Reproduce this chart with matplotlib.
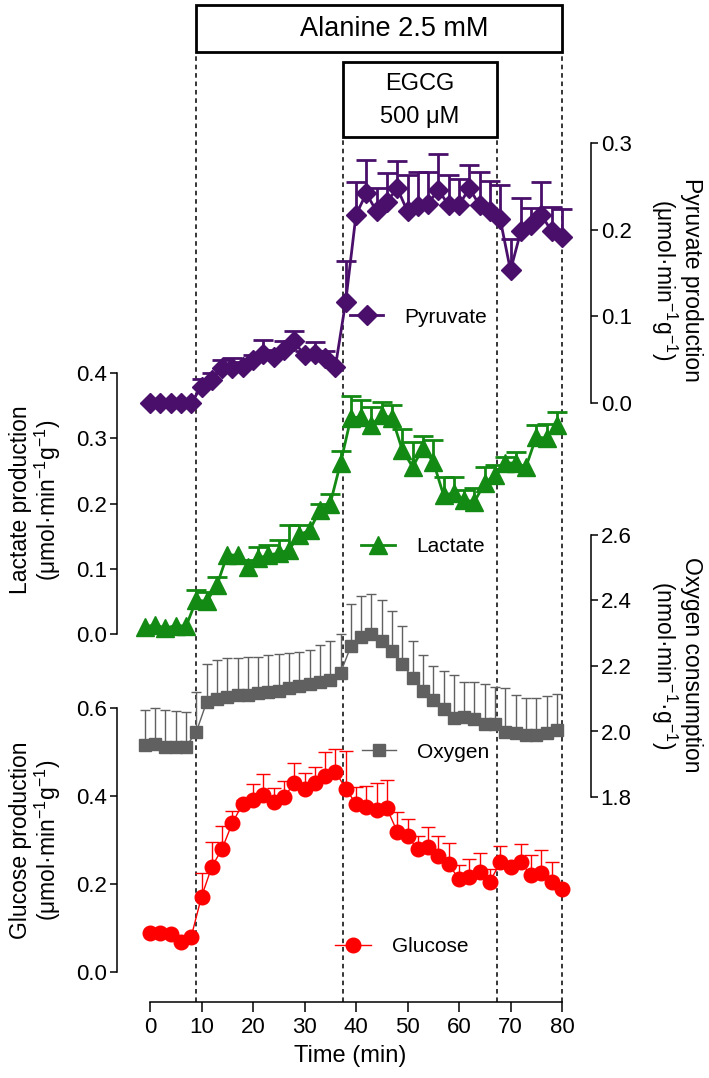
import matplotlib
matplotlib.use('Agg')
import matplotlib.pyplot as plt
import numpy as np
from matplotlib.patches import Rectangle
from matplotlib.transforms import blended_transform_factory

plt.rcParams['font.family'] = ['Liberation Sans', 'DejaVu Sans']
plt.rcParams['mathtext.default'] = 'regular'

# ---- data ----
t_even = np.arange(0, 81, 2)      # glucose, pyruvate
t_odd = np.arange(-1, 80, 2)      # oxygen, lactate

glucose = [0.088, 0.088, 0.086, 0.069, 0.080, 0.171, 0.239, 0.280, 0.339, 0.382,
           0.391, 0.402, 0.387, 0.397, 0.429, 0.417, 0.430, 0.445, 0.455, 0.417,
           0.382, 0.376, 0.368, 0.372, 0.319, 0.308, 0.280, 0.285, 0.264, 0.245,
           0.211, 0.217, 0.228, 0.205, 0.249, 0.238, 0.249, 0.220, 0.226, 0.205, 0.188]
glucose_err = [0, 0, 0, 0, 0, 0.055, 0.057, 0.051, 0.027, 0.010,
               0.036, 0.048, 0.032, 0.037, 0.047, 0.036, 0.036, 0.055, 0.051, 0.085,
               0.038, 0.047, 0.062, 0.064, 0.044, 0.040, 0.028, 0.045, 0.045, 0.048,
               0.032, 0.039, 0.042, 0.028, 0.037, 0.012, 0.043, 0.045, 0.052, 0.045, 0.0]

oxygen = [1.958, 1.961, 1.954, 1.954, 1.954, 1.999, 2.090, 2.100, 2.105, 2.110,
          2.112, 2.118, 2.122, 2.125, 2.133, 2.138, 2.145, 2.152, 2.158, 2.179,
          2.260, 2.290, 2.297, 2.277, 2.246, 2.206, 2.163, 2.125, 2.095, 2.070,
          2.042, 2.044, 2.037, 2.024, 2.024, 1.999, 1.994, 1.989, 1.989, 1.994, 2.004]
oxygen_err = [0.109, 0.111, 0.111, 0.108, 0.106, 0.121, 0.116, 0.119, 0.118, 0.113,
              0.114, 0.111, 0.111, 0.113, 0.108, 0.105, 0.104, 0.111, 0.118, 0.118,
              0.128, 0.125, 0.124, 0.123, 0.121, 0.116, 0.112, 0.108, 0.106, 0.116,
              0.129, 0.108, 0.115, 0.120, 0.111, 0.133, 0.118, 0.114, 0.114, 0.113, 0.109]

lactate = [0.011, 0.014, 0.009, 0.013, 0.012, 0.052, 0.050, 0.075, 0.121, 0.121,
           0.103, 0.116, 0.121, 0.124, 0.129, 0.152, 0.159, 0.190, 0.200, 0.262,
           0.331, 0.333, 0.320, 0.336, 0.331, 0.282, 0.256, 0.285, 0.264, 0.213,
           0.216, 0.205, 0.203, 0.231, 0.244, 0.262, 0.262, 0.256, 0.302, 0.300, 0.320]
lactate_err = [0, 0, 0, 0, 0, 0.015, 0.015, 0.012, 0, 0,
               0.010, 0.018, 0.015, 0.020, 0.038, 0.015, 0, 0.009, 0.015, 0.018,
               0.034, 0.025, 0.028, 0.020, 0.020, 0.032, 0.038, 0.019, 0.034, 0.028,
               0.025, 0.016, 0.021, 0.025, 0.015, 0.010, 0.017, 0, 0.019, 0.022, 0.020]

pyruvate = [0.0, 0.0, 0.0, 0.0, 0.0, 0.019, 0.027, 0.040, 0.040, 0.042,
            0.050, 0.056, 0.053, 0.061, 0.071, 0.055, 0.057, 0.052, 0.042, 0.117,
            0.217, 0.242, 0.221, 0.232, 0.248, 0.221, 0.227, 0.230, 0.246, 0.228,
            0.228, 0.248, 0.228, 0.221, 0.212, 0.153, 0.198, 0.205, 0.217, 0.198, 0.192]
pyruvate_err = [0, 0, 0, 0, 0, 0.009, 0.008, 0.010, 0.012, 0.005,
                0.005, 0.017, 0.008, 0.010, 0.012, 0.005, 0.013, 0.008, 0, 0.047,
                0.038, 0.038, 0.027, 0.033, 0.031, 0.042, 0.040, 0.036, 0.041, 0.035,
                0.030, 0.027, 0.038, 0.035, 0.040, 0.036, 0.038, 0.020, 0.038, 0.028, 0.032]

alanine_on, egcg_on, egcg_off, t_end = 8.9, 37.5, 67.4, 80

# ---- layout (pixels) ----
W, H = 709, 1078
fx = lambda px: px / W
fy = lambda px: 1 - px / H
X0, X1 = 130, 570
xlim = ((X0 - 150) / 5.15, (X1 - 150) / 5.15)

fig = plt.figure(figsize=(W / 100, H / 100), dpi=100)


def make_ax(top, bottom):
    ax = fig.add_axes([fx(X0), fy(bottom), (X1 - X0) / W, (bottom - top) / H])
    ax.set_xlim(*xlim)
    ax.patch.set_visible(False)
    for s in ax.spines.values():
        s.set_visible(False)
    ax.set_xticks([])
    return ax


def yaxis(ax, side, xpos, lo, hi, ticks):
    ax.set_ylim(lo, hi)
    sp = ax.spines[side]
    sp.set_visible(True)
    sp.set_position(('data', xpos))
    sp.set_bounds(ticks[0], ticks[-1])
    sp.set_linewidth(1.1)
    if side == 'right':
        ax.yaxis.tick_right()
    ax.set_yticks(ticks)
    ax.set_yticklabels(['%.1f' % v for v in ticks])
    ax.tick_params(axis='y', direction='out', length=5, width=1.1, labelsize=16, pad=2)


def series(ax, t, v, e, color, marker, ms, lw, elw, capw, label):
    t, v, e = np.asarray(t), np.asarray(v), np.asarray(e)
    m = e > 0
    ax.vlines(t[m], v[m], v[m] + e[m], colors=color, lw=elw, clip_on=False)
    ax.plot(t[m], v[m] + e[m], ls='none', marker='_', ms=capw, mew=elw,
            color=color, clip_on=False)
    ax.plot(t, v, color=color, lw=lw, marker=marker, ms=ms, mec=color,
            label=label, clip_on=False)


def legend(ax, x_px, y_px, hl, pad):
    ax.legend(loc='center left', bbox_to_anchor=(fx(x_px), fy(y_px)),
              bbox_transform=fig.transFigure, frameon=False, fontsize=15,
              handlelength=hl, handletextpad=pad, borderpad=0,
              borderaxespad=0, numpoints=1)


# base axis: time axis, event lines and boxes
base = make_ax(52, 1002)
base.set_ylim(0, 1)
base.spines['bottom'].set_visible(True)
base.spines['bottom'].set_bounds(0, 80)
base.spines['bottom'].set_linewidth(1.1)
base.set_xticks(np.arange(0, 81, 10))
base.set_yticks([])
base.tick_params(axis='x', direction='out', length=7, width=1.1, labelsize=16, pad=4)
base.set_xlabel('Time (min)', fontsize=17, labelpad=5)

dash = dict(color='black', lw=1.1, ls=(0, (3, 2.5)), zorder=0)
egcg_top = (1002 - 137) / 950
base.axvline(alanine_on, 0, 1, **dash)
base.axvline(t_end, 0, 1, **dash)
base.axvline(egcg_on, 0, egcg_top, **dash)
base.axvline(egcg_off, 0, egcg_top, **dash)

trans = blended_transform_factory(base.transData, fig.transFigure)
base.add_patch(Rectangle((alanine_on, fy(52)), t_end - alanine_on, 47 / H,
                         fill=False, lw=2, ec='black', transform=trans, clip_on=False))
base.text(47.5, fy(29), 'Alanine 2.5 mM', transform=trans, ha='center',
          va='center', fontsize=19.5)
base.add_patch(Rectangle((egcg_on, fy(137)), egcg_off - egcg_on, 75 / H,
                         fill=False, lw=2, ec='black', transform=trans, clip_on=False))
mid = (egcg_on + egcg_off) / 2
base.text(mid, fy(84), 'EGCG', transform=trans, ha='center', va='center', fontsize=17)
base.text(mid, fy(117), '500 \u03bcM', transform=trans, ha='center', va='center', fontsize=17)

left_x = (117 - 150) / 5.15
right_x = (591 - 150) / 5.15

# glucose
ax_g = make_ax(708, 972)
yaxis(ax_g, 'left', left_x, 0, 0.6, [0.0, 0.2, 0.4, 0.6])
series(ax_g, t_even, glucose, glucose_err, '#ff0000', 'o', 10.5, 1.0, 1.0, 10, 'Glucose')
legend(ax_g, 335, 947, 1.75, 1.0)
fig.text(fx(36), fy(840), 'Glucose production\n(\u03bcmol\u00b7min$^{-1}$g$^{-1}$)',
         rotation=90, ha='center', va='center', fontsize=16.5, linespacing=1.05)

# oxygen
ax_o = make_ax(535, 797)
yaxis(ax_o, 'right', right_x, 1.8, 2.6, [1.8, 2.0, 2.2, 2.4, 2.6])
series(ax_o, t_odd, oxygen, oxygen_err, '#606060', 's', 8, 1.0, 1.0, 7.5, 'Oxygen')
legend(ax_o, 362, 752, 1.65, 1.0)
fig.text(fx(676), fy(665), 'Oxygen consumption\n(nmol\u00b7min$^{-1}$\u00b7g$^{-1}$)',
         rotation=270, ha='center', va='center', fontsize=16.5, linespacing=1.05)

# lactate
ax_l = make_ax(373, 634)
yaxis(ax_l, 'left', left_x, 0, 0.4, [0.0, 0.1, 0.2, 0.3, 0.4])
series(ax_l, t_odd, lactate, lactate_err, '#138a13', '^', 13, 2.0, 2.0, 14, 'Lactate')
legend(ax_l, 361, 547, 1.65, 1.0)
fig.text(fx(36), fy(500), 'Lactate production\n(\u03bcmol\u00b7min$^{-1}$g$^{-1}$)',
         rotation=90, ha='center', va='center', fontsize=16.5, linespacing=1.05)

# pyruvate
ax_p = make_ax(143, 403)
yaxis(ax_p, 'right', right_x, 0, 0.3, [0.0, 0.1, 0.2, 0.3])
series(ax_p, t_even, pyruvate, pyruvate_err, '#4a0f6b', 'D', 10.5, 2.0, 2.0, 14, 'Pyruvate')
legend(ax_p, 350, 317, 1.6, 1.0)
fig.text(fx(676), fy(280), 'Pyruvate production\n(\u03bcmol\u00b7min$^{-1}$g$^{-1}$)',
         rotation=270, ha='center', va='center', fontsize=16.5, linespacing=1.05)

fig.savefig('out.png', dpi=100)
